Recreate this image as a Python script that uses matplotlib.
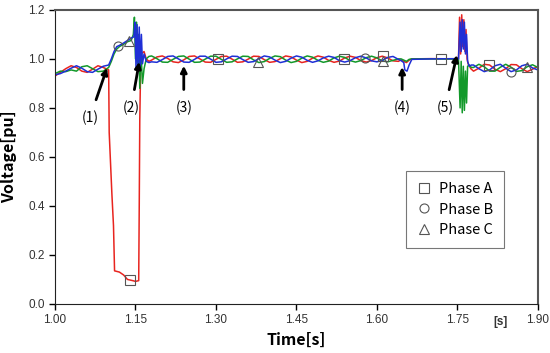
import matplotlib
matplotlib.use("Agg")
import matplotlib.pyplot as plt
import numpy as np

# time grids for the steady parts (0.01 s sampling)
t_pre = np.round(np.arange(1.00, 1.105, 0.01), 3)
t_mid = np.round(np.arange(1.18, 1.645, 0.01), 3)
t_post = np.round(np.arange(1.78, 1.905, 0.01), 3)

# before the fault
a_pre = [0.930, 0.945, 0.960, 0.972, 0.965, 0.950, 0.945, 0.958, 0.972, 0.965, 0.955]
b_pre = [0.935, 0.940, 0.950, 0.962, 0.972, 0.962, 0.948, 0.945, 0.958, 0.970, 0.975]
c_pre = [0.940, 0.950, 0.948, 0.955, 0.950, 0.968, 0.972, 0.960, 0.948, 0.950, 0.965]

# fault (1)-(2)
t_fa = [1.100, 1.101, 1.106, 1.109, 1.111, 1.120, 1.128, 1.135, 1.145, 1.150, 1.156,
        1.157, 1.158, 1.160, 1.166, 1.170, 1.175]
a_fault = [0.955, 0.70, 0.45, 0.32, 0.135, 0.130, 0.118, 0.100, 0.095, 0.092, 0.095,
           0.40, 0.75, 1.02, 1.03, 1.00, 0.99]
t_fb = [1.100, 1.105, 1.110, 1.115, 1.120, 1.128, 1.135, 1.142, 1.147, 1.149, 1.151,
        1.153, 1.155, 1.157, 1.159, 1.161, 1.163, 1.166, 1.170, 1.175]
b_fault = [0.975, 1.00, 1.03, 1.05, 1.055, 1.065, 1.075, 1.085, 1.09, 1.15, 0.96,
           1.14, 0.95, 1.13, 0.97, 1.10, 0.98, 1.02, 0.99, 0.985]
t_fc = [1.100, 1.105, 1.110, 1.115, 1.120, 1.128, 1.135, 1.142, 1.146, 1.148, 1.150,
        1.152, 1.154, 1.156, 1.158, 1.160, 1.163, 1.166, 1.170, 1.175]
c_fault = [0.965, 0.99, 1.02, 1.04, 1.05, 1.06, 1.07, 1.075, 1.10, 1.17, 1.00,
           1.15, 0.98, 1.10, 0.88, 1.04, 0.90, 0.96, 1.00, 1.010]

# steady middle part
a_mid = [0.995, 1.008, 1.012, 1.002, 0.988, 0.985,
         0.996, 1.010, 1.012, 1.000, 0.987, 0.986,
         0.998, 1.010, 1.011, 0.999, 0.986, 0.988,
         0.999, 1.011, 1.010, 0.997, 0.986, 0.989,
         1.001, 1.012, 1.008, 0.995, 0.985, 0.990,
         1.003, 1.012, 1.007, 0.994, 0.986, 0.991,
         1.004, 1.011, 1.006, 0.993, 0.987, 0.993,
         1.005, 1.011, 1.004, 0.992, 0.990]
b_mid = [0.988, 0.986, 0.997, 1.010, 1.012, 1.000,
         0.987, 0.986, 0.998, 1.011, 1.011, 0.999,
         0.986, 0.988, 1.000, 1.011, 1.010, 0.997,
         0.986, 0.989, 1.001, 1.012, 1.008, 0.995,
         0.985, 0.990, 1.003, 1.012, 1.007, 0.994,
         0.986, 0.992, 1.004, 1.011, 1.006, 0.993,
         0.987, 0.993, 1.005, 1.011, 1.004, 0.992,
         0.988, 0.994, 1.006, 1.010, 0.998]
c_mid = [1.012, 1.001, 0.987, 0.986, 0.998, 1.010,
         1.012, 0.999, 0.986, 0.987, 0.999, 1.011,
         1.011, 0.998, 0.986, 0.988, 1.000, 1.011,
         1.010, 0.996, 0.985, 0.989, 1.002, 1.012,
         1.009, 0.995, 0.985, 0.990, 1.003, 1.012,
         1.007, 0.994, 0.986, 0.991, 1.004, 1.011,
         1.006, 0.993, 0.987, 0.993, 1.005, 1.011,
         1.004, 0.992, 0.988, 0.994, 1.000]

# event (4)
t_4a = [1.645, 1.650, 1.655, 1.660, 1.665, 1.700, 1.750]
a_4 = [0.996, 0.990, 0.985, 0.995, 1.000, 1.001, 1.000]
t_4b = [1.645, 1.650, 1.652, 1.656, 1.660, 1.665, 1.700, 1.750]
b_4 = [0.993, 0.985, 0.955, 0.950, 0.975, 0.998, 1.000, 1.001]
t_4c = [1.645, 1.650, 1.655, 1.660, 1.665, 1.700, 1.750]
c_4 = [1.000, 0.995, 0.990, 0.998, 1.000, 1.000, 0.999]

# event (5)
t_5a = [1.752, 1.754, 1.756, 1.758, 1.760, 1.762, 1.764, 1.766, 1.768, 1.770, 1.775]
a_5 = [1.00, 1.17, 1.02, 1.18, 1.05, 1.16, 1.03, 1.12, 1.00, 0.98, 0.96]
t_5b = [1.752, 1.755, 1.757, 1.759, 1.761, 1.763, 1.765, 1.767, 1.769, 1.772, 1.776]
b_5 = [1.00, 1.15, 1.03, 1.16, 1.04, 1.15, 1.02, 1.10, 0.99, 0.97, 0.975]
t_5c = [1.752, 1.755, 1.757, 1.759, 1.761, 1.763, 1.765, 1.767, 1.769, 1.772, 1.776]
c_5 = [1.00, 0.80, 0.99, 0.78, 0.97, 0.79, 0.95, 0.82, 0.97, 0.975, 0.965]

# after (5)
a_post = [0.950, 0.962, 0.978, 0.975, 0.958, 0.948, 0.960, 0.977, 0.976, 0.960, 0.948, 0.958, 0.970]
b_post = [0.975, 0.960, 0.948, 0.955, 0.972, 0.978, 0.962, 0.948, 0.955, 0.972, 0.978, 0.963, 0.955]
c_post = [0.965, 0.978, 0.968, 0.950, 0.950, 0.966, 0.978, 0.966, 0.949, 0.952, 0.968, 0.976, 0.965]

# marker positions (time) per phase
mark_a = [1.14, 1.303, 1.538, 1.611, 1.72, 1.808]
mark_b = [1.118, 1.578, 1.85]
mark_c = [1.138, 1.378, 1.611, 1.88]

# event labels: (text, label x, label y, arrow tip x, tip y)
events = [("(1)", 1.065, 0.76, 1.097, 0.963),
          ("(2)", 1.142, 0.80, 1.157, 0.988),
          ("(3)", 1.240, 0.80, 1.240, 0.972),
          ("(4)", 1.647, 0.80, 1.647, 0.967),
          ("(5)", 1.727, 0.80, 1.749, 1.016)]

ta = np.concatenate([t_pre, t_fa, t_mid, t_4a, t_5a, t_post])
va = np.concatenate([a_pre, a_fault, a_mid, a_4, a_5, a_post])
tb = np.concatenate([t_pre, t_fb, t_mid, t_4b, t_5b, t_post])
vb = np.concatenate([b_pre, b_fault, b_mid, b_4, b_5, b_post])
tc = np.concatenate([t_pre, t_fc, t_mid, t_4c, t_5c, t_post])
vc = np.concatenate([c_pre, c_fault, c_mid, c_4, c_5, c_post])

fig = plt.figure(figsize=(5.5, 3.53), dpi=100)
ax = fig.add_axes([0.1, 0.139, 0.878, 0.833])

ax.plot(ta, va, color='#e8241f', lw=1.1)
ax.plot(tc, vc, color='#12992a', lw=1.1)
ax.plot(tb, vb, color='#1f2fd6', lw=1.1)

mk = dict(ls='none', mfc='none', mec='#555555', mew=0.8, ms=6.5)
ax.plot(mark_a, np.interp(mark_a, ta, va), marker='s', **mk)
ax.plot(mark_b, np.interp(mark_b, tb, vb), marker='o', **mk)
ax.plot(mark_c, np.interp(mark_c, tc, vc), marker='^', **mk)

for txt, lx, ly, px, py in events:
    ax.annotate(txt, xy=(px, py), xytext=(lx, ly), ha='center', va='center',
                fontsize=10, family='Noto Sans CJK KR',
                arrowprops=dict(arrowstyle='-|>', color='black', lw=2,
                                mutation_scale=9, shrinkA=6, shrinkB=0))

# legend with markers only
h1, = ax.plot([], [], marker='s', **mk)
h2, = ax.plot([], [], marker='o', **mk)
h3, = ax.plot([], [], marker='^', **mk)
leg = ax.legend([h1, h2, h3], ['Phase A', 'Phase B', 'Phase C'],
                loc='upper left', bbox_to_anchor=(0.727, 0.452),
                prop={'family': 'Noto Sans CJK KR', 'size': 10.5},
                handlelength=1.0, handletextpad=0.5, labelspacing=0.45,
                fancybox=False, edgecolor='#555555', borderpad=0.75,
                borderaxespad=0)
leg.get_frame().set_linewidth(0.8)

ax.set_xlim(1.0, 1.9)
ax.set_ylim(0.0, 1.2)
ax.set_xticks([1.00, 1.15, 1.30, 1.45, 1.60, 1.75, 1.90])
ax.set_xticklabels(['1.00', '1.15', '1.30', '1.45', '1.60', '1.75', '1.90'])
ax.set_yticks([0.0, 0.2, 0.4, 0.6, 0.8, 1.0, 1.2])
ax.set_yticklabels(['0.0', '0.2', '0.4', '0.6', '0.8', '1.0', '1.2'])
ax.tick_params(direction='out', length=4, width=1, labelsize=8.5,
               labelcolor='#333333', top=False, right=False)
for lab in ax.get_xticklabels() + ax.get_yticklabels():
    lab.set_family('Liberation Sans')
for s in ['left', 'bottom']:
    ax.spines[s].set_color('#222222')
for s in ['top', 'right']:
    ax.spines[s].set_color('#555555')
    ax.spines[s].set_linewidth(1.5)

ax.text(1.83, -0.075, '[s]', ha='center', va='center', fontsize=8.5,
        family='Liberation Sans', color='#333333', fontweight='bold')
ax.set_xlabel('Time[s]', family='Noto Sans CJK KR', fontweight='bold', fontsize=11.5, labelpad=4)
ax.set_ylabel('Voltage[pu]', family='Noto Sans CJK KR', fontweight='bold', fontsize=11.5, labelpad=8)

fig.savefig('out.png', dpi=100)
